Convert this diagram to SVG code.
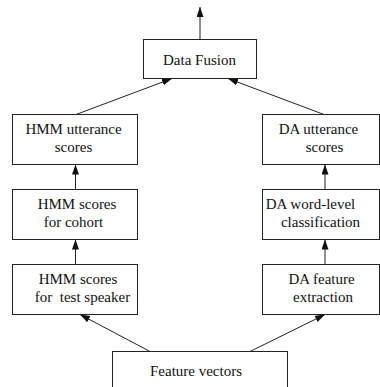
<svg xmlns="http://www.w3.org/2000/svg" width="380" height="387" viewBox="0 0 380 387">
<style>
rect{fill:#fff;stroke:#222;stroke-width:1}
text{font-family:'Liberation Serif','Times New Roman',Times,'Nimbus Roman','DejaVu Serif',serif;font-size:15px;fill:#111;text-anchor:middle;white-space:pre}
.c{stroke:#222;stroke-width:1;fill:none;marker-end:url(#ah)}
</style>
<defs>
<marker id="ah" markerUnits="userSpaceOnUse" markerWidth="11" markerHeight="8" refX="10" refY="3.5" orient="auto">
<path d="M0,0 L10,3.5 L0,7 z" fill="#111"/>
</marker>
</defs>
<g id="connectors">
<line class="c" x1="200" y1="39.5" x2="200" y2="7"/>
<line class="c" x1="76" y1="114.5" x2="172" y2="78.5"/>
<line class="c" x1="324" y1="114.5" x2="228" y2="78.5"/>
<line class="c" x1="75.5" y1="189.5" x2="75.5" y2="164.5"/>
<line class="c" x1="75.5" y1="264.5" x2="75.5" y2="239.5"/>
<line class="c" x1="325" y1="189.5" x2="325" y2="164.5"/>
<line class="c" x1="325" y1="264.5" x2="325" y2="239.5"/>
<line class="c" x1="150" y1="351.5" x2="80" y2="314.5"/>
<line class="c" x1="250" y1="351.5" x2="325" y2="314.5"/>
</g>
<g id="data-fusion">
<rect x="143.5" y="39.5" width="113" height="39"/>
<text x="199.5" y="64.5" font-family="Liberation Serif, serif">Data Fusion</text>
</g>
<g id="hmm-utterance">
<rect x="12.5" y="114.5" width="125" height="50"/>
<text x="73.5" y="133.5">HMM utterance</text>
<text x="73.5" y="152">scores</text>
</g>
<g id="hmm-cohort">
<rect x="12.5" y="189.5" width="125" height="50"/>
<text x="77" y="208.5">HMM scores</text>
<text x="73.5" y="227">for cohort</text>
</g>
<g id="hmm-test">
<rect x="12.5" y="264.5" width="125" height="50"/>
<text x="78" y="283.5">HMM scores</text>
<text x="82.5" y="302">for  test speaker</text>
</g>
<g id="da-utterance">
<rect x="262.5" y="114.5" width="117" height="50"/>
<text x="318.5" y="133.5">DA utterance</text>
<text x="324.5" y="152">scores</text>
</g>
<g id="da-word">
<rect x="262.5" y="189.5" width="117" height="50"/>
<text x="310.5" y="208.5">DA word-level</text>
<text x="320.5" y="227">classification</text>
</g>
<g id="da-feature">
<rect x="262.5" y="264.5" width="117" height="50"/>
<text x="321.5" y="283.5">DA feature</text>
<text x="323" y="302">extraction</text>
</g>
<g id="feature-vectors">
<rect x="112.5" y="351.5" width="175" height="60"/>
<text x="196" y="376">Feature vectors</text>
</g>
</svg>
